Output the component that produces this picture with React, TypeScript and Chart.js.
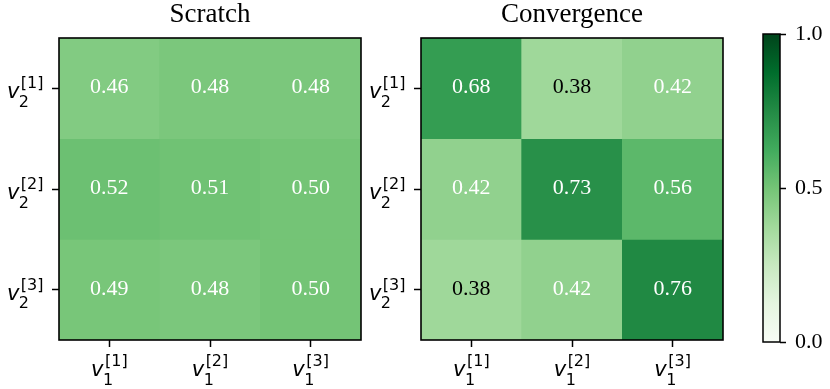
import React, { useEffect, useRef } from "react";
import { Chart, registerables } from "chart.js";

Chart.register(...registerables);

// ---------- data ----------
const panelTitles = ["Scratch", "Convergence"];
const colLabels = ["v_1^[1]", "v_1^[2]", "v_1^[3]"];
const rowLabels = ["v_2^[1]", "v_2^[2]", "v_2^[3]"];
const scratchValues = [
  [0.46, 0.48, 0.48],
  [0.52, 0.51, 0.5],
  [0.49, 0.48, 0.5],
];
const convergenceValues = [
  [0.68, 0.38, 0.42],
  [0.42, 0.73, 0.56],
  [0.38, 0.42, 0.76],
];
const colorbarTicks = [0, 0.5, 1.0];
const colorbarTickLabels = ["0.0", "0.5", "1.0"];
const greensStops = [
  "#f7fcf5",
  "#e5f5e0",
  "#c7e9c0",
  "#a1d99b",
  "#74c476",
  "#41ab5d",
  "#238b45",
  "#006d2c",
  "#00441b",
];
const darkTextBelow = 0.4;

// ---------- helpers ----------
const SERIF = '"Liberation Serif", "Times New Roman", serif';
const SANS = '"DejaVu Sans", sans-serif';

function hexToRgb(h: string) {
  const n = parseInt(h.slice(1), 16);
  return [(n >> 16) & 255, (n >> 8) & 255, n & 255];
}
const stopRgb = greensStops.map(hexToRgb);

function greens(v: number) {
  const t = Math.max(0, Math.min(1, v)) * (stopRgb.length - 1);
  const i = Math.min(stopRgb.length - 2, Math.floor(t));
  const f = t - i;
  const a = stopRgb[i];
  const b = stopRgb[i + 1];
  const c = a.map((x, k) => Math.round(x + (b[k] - x) * f));
  return `rgb(${c[0]},${c[1]},${c[2]})`;
}

function drawMath(
  ctx: CanvasRenderingContext2D,
  label: string,
  x: number,
  baseline: number,
  align: "center" | "right"
) {
  const m = /^(.+?)_(.+?)\^(.+)$/.exec(label);
  if (!m) return;
  const base = m[1];
  const sub = m[2];
  const sup = m[3];
  ctx.save();
  ctx.fillStyle = "#000";
  ctx.textAlign = "left";
  ctx.textBaseline = "alphabetic";
  ctx.font = `italic 21px ${SANS}`;
  const bw = ctx.measureText(base).width;
  ctx.font = `16px ${SANS}`;
  const sbw = ctx.measureText(sub).width;
  const spw = ctx.measureText(sup).width;
  const supOff = 1.5;
  const total = bw + Math.max(sbw, spw + supOff);
  const left = align === "center" ? x - total / 2 : x - total;
  ctx.font = `italic 21px ${SANS}`;
  ctx.fillText(base, left, baseline);
  ctx.font = `16px ${SANS}`;
  ctx.fillText(sub, left + bw - 0.5, baseline + 8.5);
  ctx.fillText(sup, left + bw + supOff, baseline - 10);
  ctx.restore();
}

const heatmapPlugin = {
  id: "heatmapDecor",
  afterDatasetsDraw(chart: any) {
    const values: number[][] = chart.options.plugins.heatmapDecor.values;
    const { ctx, chartArea, scales } = chart;
    const xs = scales.x;
    const ys = scales.y;
    ctx.save();
    ctx.font = `22px ${SERIF}`;
    ctx.textAlign = "center";
    ctx.textBaseline = "alphabetic";
    values.forEach((row, r) => {
      row.forEach((v, c) => {
        const x = xs.getPixelForValue(c);
        const y = ys.getPixelForValue(r + 0.5);
        ctx.fillStyle = v < darkTextBelow ? "#000" : "#fff";
        ctx.fillText(v.toFixed(2), x, y + 5);
      });
    });
    ctx.strokeStyle = "#000";
    ctx.lineWidth = 1.6;
    ctx.strokeRect(
      chartArea.left,
      chartArea.top,
      chartArea.right - chartArea.left,
      chartArea.bottom - chartArea.top
    );
    ctx.restore();
  },
  afterDraw(chart: any) {
    const { ctx, chartArea, scales } = chart;
    const xs = scales.x;
    const ys = scales.y;
    colLabels.forEach((lab, i) => {
      drawMath(ctx, lab, xs.getPixelForValue(i), chartArea.bottom + 36, "center");
    });
    rowLabels.forEach((lab, i) => {
      drawMath(ctx, lab, chartArea.left - 15.5, ys.getPixelForValue(i + 0.5) + 10, "right");
    });
  },
};

const frameOnly = {
  id: "cbFrame",
  afterDatasetsDraw(chart: any) {
    const { ctx, chartArea } = chart;
    ctx.save();
    ctx.strokeStyle = "#000";
    ctx.lineWidth = 1.5;
    ctx.strokeRect(
      chartArea.left,
      chartArea.top,
      chartArea.right - chartArea.left,
      chartArea.bottom - chartArea.top
    );
    ctx.restore();
  },
};

function heatmapConfig(title: string, values: number[][], yWidth: number, padRight: number): any {
  return {
    type: "bar",
    data: {
      labels: colLabels,
      datasets: values.map((row, r) => ({
        label: rowLabels[r],
        data: row.map(() => [r, r + 1]),
        backgroundColor: row.map((v) => greens(v)),
        borderWidth: 0,
        barPercentage: 1,
        categoryPercentage: 1,
        grouped: false,
      })),
    },
    options: {
      animation: false,
      responsive: false,
      events: [],
      layout: { padding: { left: 0, right: padRight, top: 0, bottom: 0 } },
      plugins: {
        legend: { display: false },
        tooltip: { enabled: false },
        title: {
          display: true,
          text: title,
          fullSize: false,
          color: "#000",
          font: { family: SERIF, size: 27, weight: "normal", lineHeight: 1 },
          padding: { top: 1.4, bottom: 9.6 },
        },
        heatmapDecor: { values },
      },
      scales: {
        x: {
          type: "category",
          offset: true,
          ticks: { display: false },
          grid: {
            offset: false,
            drawOnChartArea: false,
            drawTicks: true,
            tickLength: 7,
            tickWidth: 1.5,
            tickColor: "#000",
          },
          border: { display: false },
          afterFit: (s: any) => {
            s.height = 49;
          },
        },
        y: {
          type: "linear",
          min: 0,
          max: 3,
          reverse: true,
          ticks: { display: false },
          afterBuildTicks: (s: any) => {
            s.ticks = rowLabels.map((_, i) => ({ value: i + 0.5 }));
          },
          grid: {
            drawOnChartArea: false,
            drawTicks: true,
            tickLength: 7,
            tickWidth: 1.5,
            tickColor: "#000",
          },
          border: { display: false },
          afterFit: (s: any) => {
            s.width = yWidth;
          },
        },
      },
    },
    plugins: [heatmapPlugin],
  };
}

function colorbarConfig(): any {
  return {
    type: "bar",
    data: {
      labels: [""],
      datasets: [
        {
          data: [[0, 1]],
          borderWidth: 0,
          barPercentage: 1,
          categoryPercentage: 1,
          backgroundColor: (c: any) => {
            const area = c.chart.chartArea;
            if (!area) return greens(0.5);
            const g = c.chart.ctx.createLinearGradient(0, area.bottom, 0, area.top);
            greensStops.forEach((col, i) => g.addColorStop(i / (greensStops.length - 1), col));
            return g;
          },
        },
      ],
    },
    options: {
      animation: false,
      responsive: false,
      events: [],
      layout: { padding: { left: 23, right: 0, top: 34, bottom: 47 } },
      plugins: { legend: { display: false }, tooltip: { enabled: false } },
      scales: {
        x: { display: false },
        y: {
          position: "right",
          min: 0,
          max: 1,
          afterBuildTicks: (s: any) => {
            s.ticks = colorbarTicks.map((v) => ({ value: v }));
          },
          ticks: {
            color: "#000",
            font: { family: SERIF, size: 22 },
            padding: 9,
            callback: (_v: any, i: number) => colorbarTickLabels[i],
          },
          grid: {
            drawOnChartArea: false,
            drawTicks: true,
            tickLength: 6,
            tickWidth: 1.5,
            tickColor: "#000",
          },
          border: { display: false },
          afterFit: (s: any) => {
            s.width = 50;
          },
        },
      },
    },
    plugins: [frameOnly],
  };
}

function ChartCanvas({ left, width, make }: { left: number; width: number; make: () => any }) {
  const ref = useRef<HTMLCanvasElement | null>(null);
  useEffect(() => {
    if (!ref.current) return;
    const chart = new Chart(ref.current, make());
    return () => chart.destroy();
  }, []);
  return (
    <canvas
      ref={ref}
      width={width}
      height={389}
      style={{ position: "absolute", left, top: 0, width, height: 389 }}
    />
  );
}

export default function App() {
  return (
    <div
      style={{
        position: "fixed",
        left: 0,
        top: 0,
        width: 830,
        height: 389,
        background: "#fff",
        overflow: "hidden",
      }}
    >
      <ChartCanvas left={0} width={380} make={() => heatmapConfig(panelTitles[0], scratchValues, 59, 19)} />
      <ChartCanvas left={360} width={380} make={() => heatmapConfig(panelTitles[1], convergenceValues, 61, 17)} />
      <ChartCanvas left={740} width={90} make={colorbarConfig} />
    </div>
  );
}
